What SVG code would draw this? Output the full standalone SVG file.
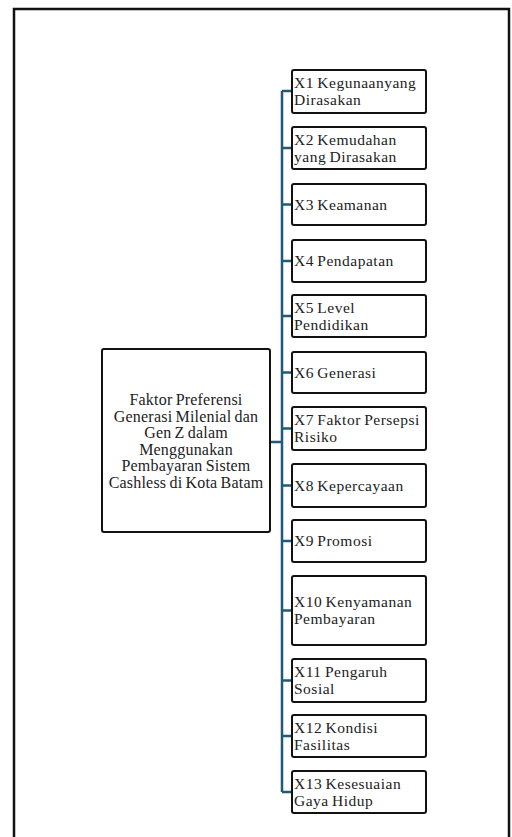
<svg xmlns="http://www.w3.org/2000/svg" width="512" height="837" viewBox="0 0 512 837" font-family="Liberation Serif, DejaVu Serif, serif">
<style>
.frame{fill:none;stroke:#111;stroke-width:2.5}
.box{fill:#fff;stroke:#111;stroke-width:2}
.t{font-size:15.5px;fill:#222;letter-spacing:0.5px;word-spacing:-1px}
.m{text-anchor:middle;font-size:16px;letter-spacing:0.2px;word-spacing:-1px}
.conn{fill:none;stroke:#1f5a7a;stroke-width:2.5}
</style>
<rect width="512" height="837" fill="#fff"/>
<rect class="frame" x="14" y="9" width="495" height="850"/>
<g id="connectors">
<path class="conn" d="M270 442H282M282 91V792M282 91H292M282 148H292M282 204.5H292M282 261H292M282 316H292M282 372.5H292M282 428.5H292M282 485.5H292M282 541H292M282 610.5H292M282 680.5H292M282 736H292M282 792H292"/>
</g>
<g id="main">
<rect class="box" x="102" y="349" width="168" height="183" rx="2"/>
<text class="t m" x="186" y="405">Faktor Preferensi</text>
<text class="t m" x="186" y="421.6">Generasi Milenial dan</text>
<text class="t m" x="186" y="438.2">Gen Z dalam</text>
<text class="t m" x="186" y="454.8">Menggunakan</text>
<text class="t m" x="186" y="471.4">Pembayaran Sistem</text>
<text class="t m" x="186" y="488">Cashless di Kota Batam</text>
</g>
<g id="x1"><rect class="box" x="292" y="70" width="134" height="43" rx="2"/><text class="t" x="294" y="88">X1 Kegunaanyang</text><text class="t" x="294" y="105">Dirasakan</text></g>
<g id="x2"><rect class="box" x="292" y="127" width="134" height="42" rx="2"/><text class="t" x="294" y="144.5">X2 Kemudahan</text><text class="t" x="294" y="161.5">yang Dirasakan</text></g>
<g id="x3"><rect class="box" x="292" y="184" width="134" height="41" rx="2"/><text class="t" x="294" y="209.5">X3 Keamanan</text></g>
<g id="x4"><rect class="box" x="292" y="240" width="134" height="42" rx="2"/><text class="t" x="294" y="266">X4 Pendapatan</text></g>
<g id="x5"><rect class="box" x="292" y="295" width="134" height="42" rx="2"/><text class="t" x="294" y="312.5">X5 Level</text><text class="t" x="294" y="329.5">Pendidikan</text></g>
<g id="x6"><rect class="box" x="292" y="352" width="134" height="41" rx="2"/><text class="t" x="294" y="377.5">X6 Generasi</text></g>
<g id="x7"><rect class="box" x="292" y="407" width="134" height="43" rx="2"/><text class="t" x="294" y="425">X7 Faktor Persepsi</text><text class="t" x="294" y="442">Risiko</text></g>
<g id="x8"><rect class="box" x="292" y="464" width="134" height="43" rx="2"/><text class="t" x="294" y="490.5">X8 Kepercayaan</text></g>
<g id="x9"><rect class="box" x="292" y="520" width="134" height="42" rx="2"/><text class="t" x="294" y="546">X9 Promosi</text></g>
<g id="x10"><rect class="box" x="292" y="576" width="134" height="69" rx="2"/><text class="t" x="294" y="606.5">X10 Kenyamanan</text><text class="t" x="294" y="623.5">Pembayaran</text></g>
<g id="x11"><rect class="box" x="292" y="659" width="134" height="43" rx="2"/><text class="t" x="294" y="677">X11 Pengaruh</text><text class="t" x="294" y="694">Sosial</text></g>
<g id="x12"><rect class="box" x="292" y="715" width="134" height="42" rx="2"/><text class="t" x="294" y="732.5">X12 Kondisi</text><text class="t" x="294" y="749.5">Fasilitas</text></g>
<g id="x13"><rect class="box" x="292" y="771" width="134" height="42" rx="2"/><text class="t" x="294" y="788.5">X13 Kesesuaian</text><text class="t" x="294" y="805.5">Gaya Hidup</text></g>
</svg>
